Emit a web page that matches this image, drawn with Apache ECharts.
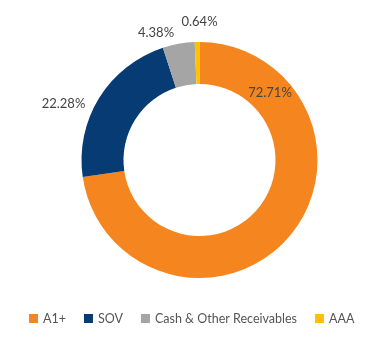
<!DOCTYPE html>
<html>
<head>
<meta charset="utf-8">
<script src="https://cdn.jsdelivr.net/npm/echarts@6/dist/echarts.min.js"></script>
<style>
html,body{margin:0;padding:0;background:#fff;}
#c{width:369px;height:350px;}
</style>
</head>
<body>
<div id="c"></div>
<script>
const categories = ['A1+', 'SOV', 'Cash & Other Receivables', 'AAA'];
const values = [72.71, 22.28, 4.38, 0.64];
const colors = ['#F5861F', '#063B73', '#A5A5A5', '#FFC000'];
const labelPos = [[270, 92.5], [63.5, 103.5], [156, 32.5], [199.5, 22]];

const chart = echarts.init(document.getElementById('c'));
chart.setOption({
  animation: false,
  color: colors,
  legend: {
    data: categories,
    left: 24,
    top: 307,
    icon: 'rect',
    itemWidth: 9,
    itemHeight: 9,
    itemGap: 18,
    textStyle: { fontFamily: 'Lato', fontSize: 12.5, color: '#555' }
  },
  series: [{
    type: 'pie',
    center: [199.5, 160],
    radius: [76, 118],
    startAngle: 90,
    clockwise: true,
    avoidLabelOverlap: false,
    data: categories.map((n, i) => ({ name: n, value: values[i] })),
    label: {
      show: true,
      position: 'outside',
      formatter: p => p.value.toFixed(2) + '%',
      fontFamily: 'Lato',
      fontSize: 13,
      color: '#444'
    },
    labelLine: { show: false },
    labelLayout: function (params) {
      const p = labelPos[params.dataIndex];
      return { x: p[0], y: p[1], align: 'center', verticalAlign: 'middle' };
    }
  }]
});
</script>
</body>
</html>
